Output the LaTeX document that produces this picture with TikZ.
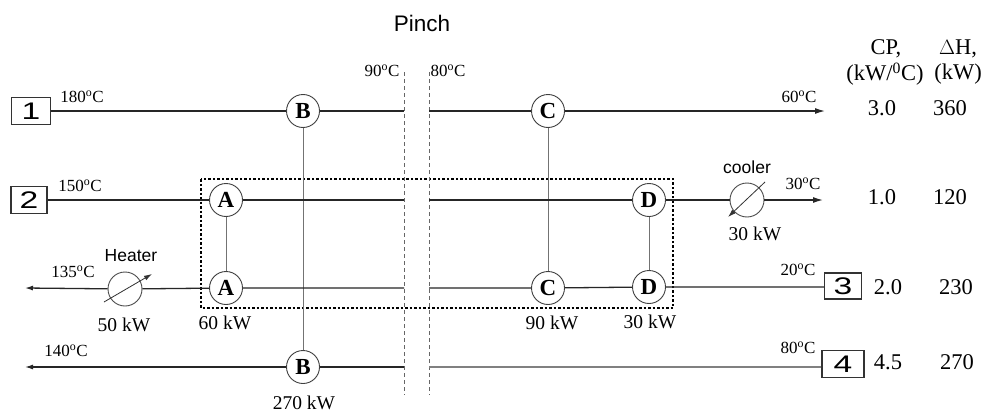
\documentclass[tikz,border=0pt]{standalone}
\usepackage{fontspec}
\setmainfont{Liberation Serif}
\newfontfamily\sansf{Liberation Sans}
\usepackage{graphicx}
\usetikzlibrary{arrows.meta,calc}
\begin{document}
\begin{tikzpicture}[x=1pt,y=-1pt,
  stream/.style={black!85, line width=1.3pt},
  light/.style={black!50, line width=1.2pt},
  link/.style={black!55, line width=1pt},
  arr/.style={-{Latex[length=10pt,width=6pt]}},
  hx/.style={circle, draw=black!75, line width=0.9pt, fill=white, minimum size=33pt, inner sep=0pt, font=\fontsize{23}{23}\selectfont\bfseries},
  util/.style={circle, draw=black!70, line width=0.9pt, fill=white, minimum size=34pt, inner sep=0pt},
  sbox/.style={draw=black!80, line width=1.1pt, fill=white, minimum width=38pt, minimum height=27pt, inner sep=0pt, font=\sansf\fontsize{24}{24}\selectfont},
  tlab/.style={font=\fontsize{17}{17}\selectfont, inner sep=0pt},
  klab/.style={font=\fontsize{19.5}{19.5}\selectfont, inner sep=0pt},
  vlab/.style={font=\fontsize{22.5}{22.5}\selectfont, inner sep=0pt},
  slab/.style={font=\sansf\fontsize{17.5}{17.5}\selectfont, inner sep=0pt},
  pinchline/.style={black!60, line width=0.9pt, dash pattern=on 4pt off 3pt},
  dotbox/.style={black, line width=1.1pt, dash pattern=on 2.5pt off 2pt}
]
\useasboundingbox (0,0) rectangle (983,415);
\fill[white] (0,0) rectangle (983,415);

% stream boxes
\node[sbox, minimum width=39pt] (s1) at (31,111) {\scalebox{1.4}[1]{1}};
\node[sbox, minimum width=36pt] (s2) at (29,200) {\scalebox{1.4}[1]{2}};
\node[sbox, minimum width=37pt, minimum height=26pt] (s3) at (843,286) {\scalebox{1.4}[1]{3}};
\node[sbox, minimum width=42pt] (s4) at (843,364) {\scalebox{1.4}[1]{4}};

% pinch coordinates
\coordinate (pT1) at (404,72);  \coordinate (pB1) at (404,395);
\coordinate (pT2) at (429,72);  \coordinate (pB2) at (429,395);
\coordinate (pL1) at (404,111); \coordinate (pR1) at (429,111);
\coordinate (pL2) at (404,200); \coordinate (pR2) at (429,200);
\coordinate (pL3) at (404,288); \coordinate (pR3) at (429,288);
\coordinate (pL4) at (404,367); \coordinate (pR4) at (429,367);
\coordinate (e1) at (825,111);
\coordinate (e2) at (823,200);
\coordinate (e3) at (25,288);
\coordinate (e4) at (25,367);

% exchangers and utilities
\node[hx] (B1) at (303,111) {B};
\node[hx] (B4) at (303,367) {B};
\node[hx] (A2) at (226,200) {A};
\node[hx] (A3) at (226,288) {A};
\node[hx] (C1) at (548,111) {C};
\node[hx] (C3) at (548,288) {C};
\node[hx] (D2) at (649,200) {D};
\node[hx] (D3) at (649,287) {D};
\node[util] (cooler) at (747,200) {};
\node[util] (heater) at (125,289) {};

% dotted rectangle
\draw[dotbox] (201,179) rectangle (673,308);

% pinch lines
\draw[pinchline] (pT1) -- (pB1);
\draw[pinchline] (pT2) -- (pB2);

% matches (vertical)
\draw[link] (B1) -- (B4);
\draw[link] (A2) -- (A3);
\draw[link] (C1) -- (C3);
\draw[link] (D2) -- (D3);

% stream 1
\draw[stream] (s1) -- (B1) -- (pL1);
\draw[stream] (pR1) -- (C1);
\draw[stream, arr] (C1) -- (e1);
% stream 2
\draw[stream] (s2) -- (A2) -- (pL2);
\draw[stream] (pR2) -- (D2) -- (cooler);
\draw[stream, arr] (cooler) -- (e2);
% stream 3
\draw[stream] (s3.west |- D3) -- (D3) -- (C3) -- (pR3);
\draw[stream] (pL3) -- (A3) -- (heater);
\draw[stream, -{Latex[length=8pt,width=5pt]}] (heater) -- (e3);
% stream 4
\draw[light] (s4.west |- pR4) -- (pR4);
\draw[stream] (pL4) -- (B4);
\draw[stream, -{Latex[length=8pt,width=5pt]}] (B4) -- (e4);

% utility arrows
\draw[black!80, line width=0.8pt, -{Latex[length=8pt,width=5pt]}] ($(heater)+(-21,13)$) -- ($(heater)+(27,-15)$);
\draw[black!80, line width=0.8pt, -{Latex[length=8pt,width=5pt]}] ($(cooler)+(18,-18)$) -- ($(cooler)+(-19,17)$);

% labels
\node[slab, font=\sansf\fontsize{22.5}{22.5}\selectfont] (pinch) at (422,23) {Pinch};
\node[tlab] (t90) at (382,71) {90\textsuperscript{o}C};
\node[tlab] (t80) at (448,71) {80\textsuperscript{o}C};
\node[tlab] (t180) at (82,97) {180\textsuperscript{o}C};
\node[tlab] (t150) at (80,186) {150\textsuperscript{o}C};
\node[tlab] (t135) at (73,272) {135\textsuperscript{o}C};
\node[tlab] (t140) at (66,351) {140\textsuperscript{o}C};
\node[tlab] (t60) at (799,97) {60\textsuperscript{o}C};
\node[tlab] (t30) at (803,184) {30\textsuperscript{o}C};
\node[tlab] (t20) at (798,270) {20\textsuperscript{o}C};
\node[tlab] (t80b) at (798,348) {80\textsuperscript{o}C};

\node[slab] (heatlab) at (131,256) {Heater};
\node[slab] (coollab) at (747,167) {cooler};

\node[klab] (q50) at (124,325) {50 kW};
\node[klab] (q60) at (225,323) {60 kW};
\node[klab] (q90) at (552,323) {90 kW};
\node[klab] (q30) at (650,322) {30 kW};
\node[klab] (q30c) at (755,234) {30 kW};
\node[klab] (q270) at (304,403) {270 kW};

% table
\node[vlab] (cph) at (886,49) {CP,};
\node[vlab] (cpu) at (885,74) {(kW/\textsuperscript{0}C)};
\node[vlab] (dhh) at (958,49) {$\Delta$H,};
\node[vlab] (dhu) at (958,74) {(kW)};
\node[vlab] (cp1) at (882,108) {3.0};
\node[vlab] (dh1) at (950,108) {360};
\node[vlab] (cp2) at (882,197) {1.0};
\node[vlab] (dh2) at (950,197) {120};
\node[vlab] (cp3) at (888,287) {2.0};
\node[vlab] (dh3) at (956,287) {230};
\node[vlab] (cp4) at (888,362) {4.5};
\node[vlab] (dh4) at (957,362) {270};
\end{tikzpicture}
\end{document}
